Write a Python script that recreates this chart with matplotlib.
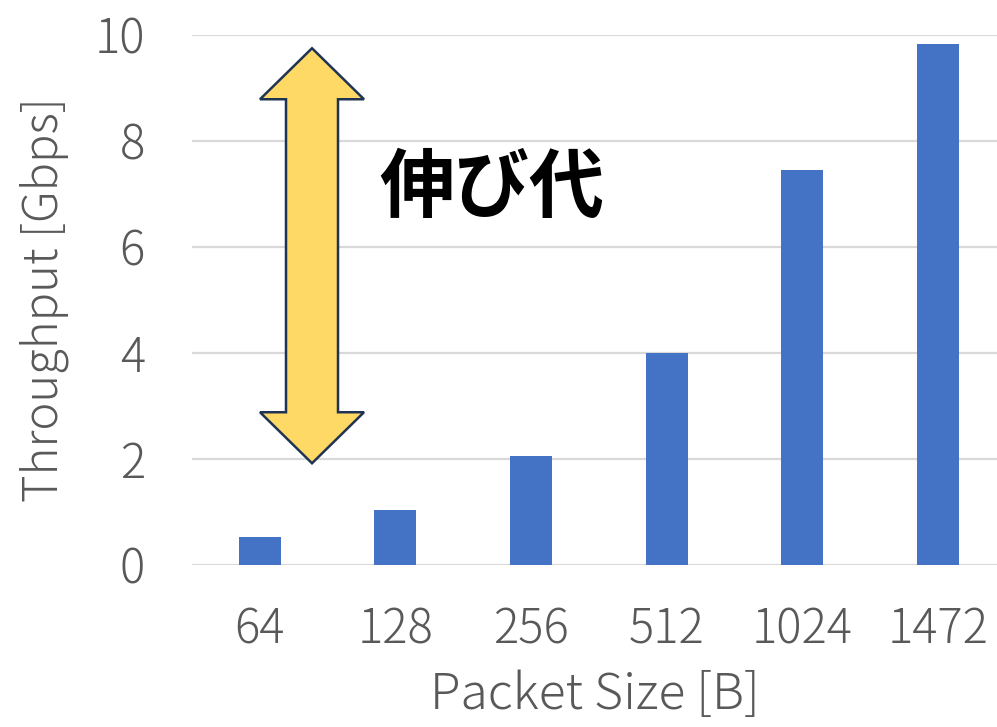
import matplotlib
matplotlib.use("Agg")
import matplotlib.pyplot as plt
from matplotlib.patches import Polygon

plt.rcParams['font.family'] = ['Noto Sans CJK JP', 'DejaVu Sans']

packet_sizes = ["64", "128", "256", "512", "1024", "1472"]
throughput_gbps = [0.53, 1.04, 2.06, 4.00, 7.45, 9.83]
y_ticks = [0, 2, 4, 6, 8, 10]

# Headroom arrow span (Gbps)
arrow_low = 1.92
arrow_high = 9.75

W, H = 997, 727
fig = plt.figure(figsize=(W / 100, H / 100), dpi=100)
left, right, bottom, top = 192, 997, 565, 35
ax = fig.add_axes([left / W, 1 - bottom / H, (right - left) / W, (bottom - top) / H])

step_px = 135.6
x_max = -0.5 + (right - left) / step_px
x = list(range(len(packet_sizes)))
ax.bar(x, throughput_gbps, width=0.31, color="#4472C4", zorder=3)

ax.set_xlim(-0.5, x_max)
ax.set_ylim(0, 10)
ax.set_yticks(y_ticks)
ax.set_yticklabels([str(t) for t in y_ticks])
ax.set_xticks(x)
ax.set_xticklabels(packet_sizes)

gray = "#595959"
fs = 34
ax.tick_params(axis="both", length=0, labelsize=fs, labelcolor=gray)
for lab in ax.get_xticklabels() + ax.get_yticklabels():
    lab.set_fontweight("light")
ax.tick_params(axis="y", pad=34)
ax.tick_params(axis="x", pad=29)
ax.grid(axis="y", color="#D9D9D9", linewidth=1.6, zorder=0)
ax.set_axisbelow(True)
for s in ax.spines.values():
    s.set_visible(False)

ax.set_xlabel("Packet Size [B]", fontsize=36, color=gray, labelpad=11, fontweight="light")
ax.set_ylabel("Throughput [Gbps]", fontsize=fs, color=gray, labelpad=18, fontweight="light")

# Double-headed block arrow marking the headroom
cx = 0.385
shaft_hw = 26 / step_px
head_hw = 52 / step_px
head_len = 51 / 53.0
pts = [
    (cx, arrow_high),
    (cx + head_hw, arrow_high - head_len),
    (cx + shaft_hw, arrow_high - head_len),
    (cx + shaft_hw, arrow_low + head_len),
    (cx + head_hw, arrow_low + head_len),
    (cx, arrow_low),
    (cx - head_hw, arrow_low + head_len),
    (cx - shaft_hw, arrow_low + head_len),
    (cx - shaft_hw, arrow_high - head_len),
    (cx - head_hw, arrow_high - head_len),
]
ax.add_patch(Polygon(pts, closed=True, facecolor="#FFD966", edgecolor="#1F3354",
                     linewidth=1.8, zorder=4, clip_on=False))

ax.text(1.71, 7.09, "伸び代", fontsize=54, fontweight="bold", color="black",
        ha="center", va="center", zorder=5)

fig.savefig("out.png", dpi=100)
